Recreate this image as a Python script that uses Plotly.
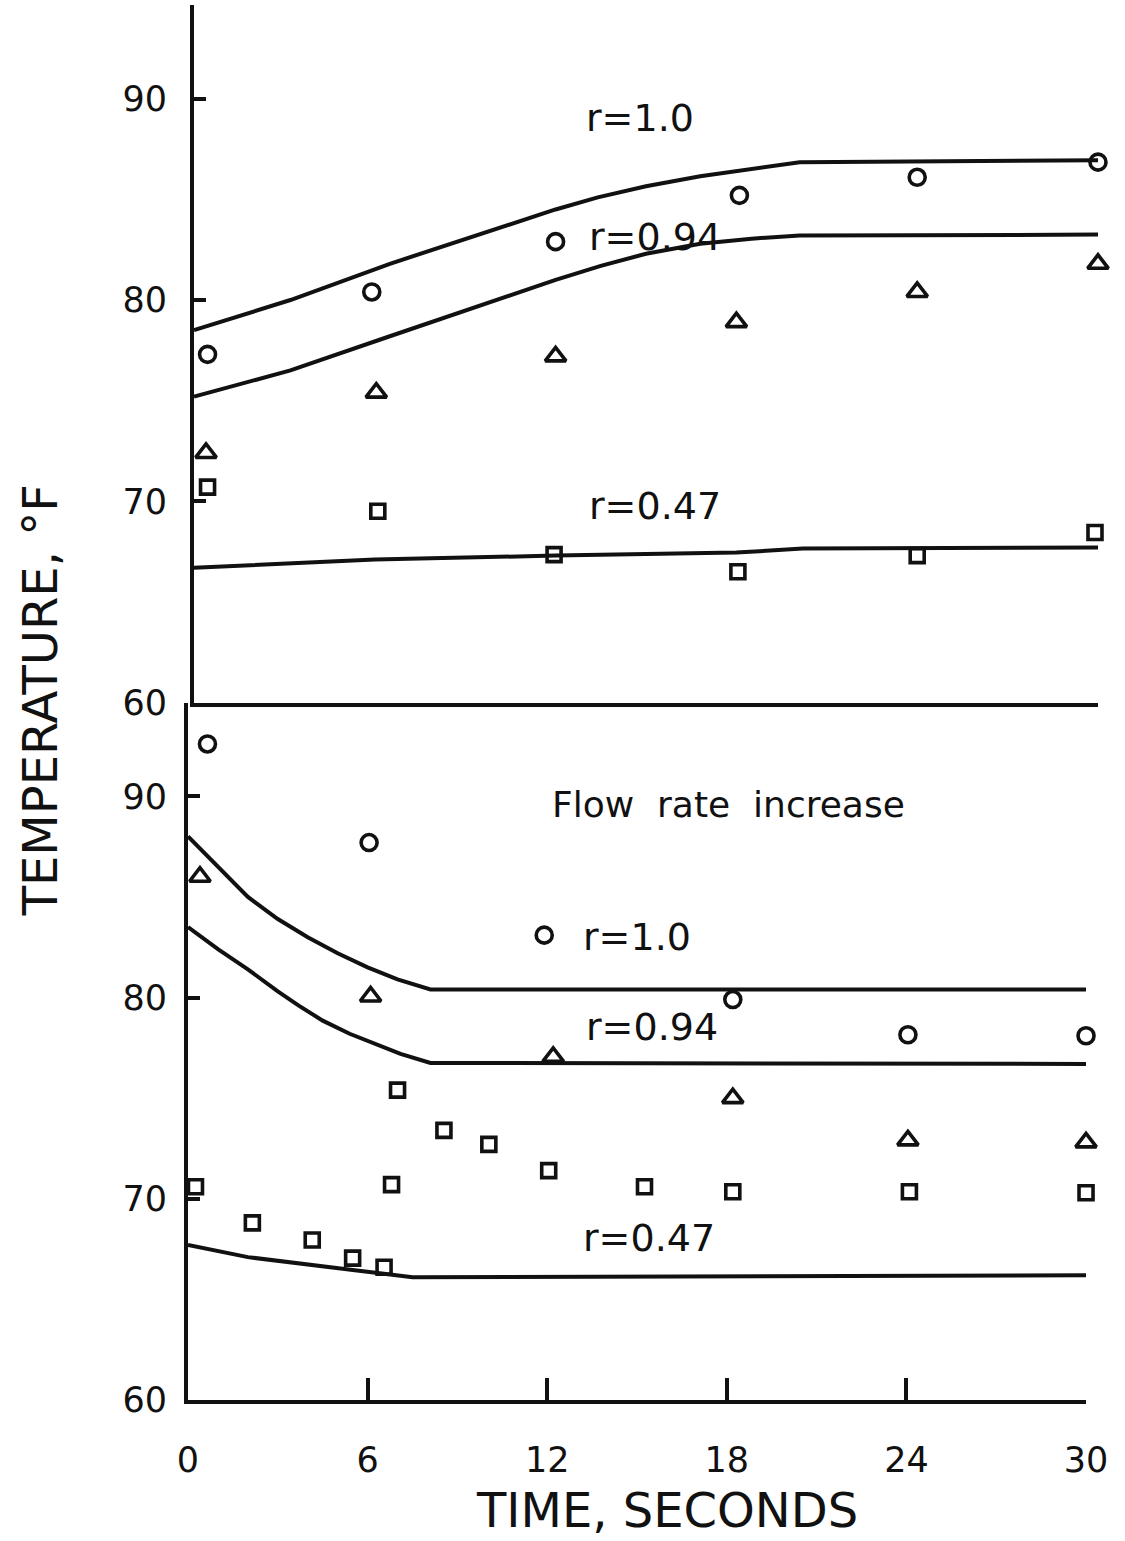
import plotly.graph_objects as go

# ---------------- data ----------------
# Upper panel (time, s / temperature, F)
top_r100_line_t = [0.0, 3.2, 6.5, 10.5, 12.0, 13.4, 15.0, 16.8, 18.5, 20.1, 30.0]
top_r100_line_T = [78.5, 80.0, 81.8, 83.75, 84.5, 85.1, 85.65, 86.15, 86.5, 86.85, 86.95]
top_r094_line_t = [0.0, 3.2, 6.5, 10.5, 12.0, 13.5, 15.0, 16.8, 18.5, 20.1, 30.0]
top_r094_line_T = [75.2, 76.5, 78.2, 80.25, 81.0, 81.7, 82.3, 82.8, 83.05, 83.2, 83.25]
top_r047_line_t = [0.0, 6.0, 12.0, 18.0, 20.2, 30.0]
top_r047_line_T = [66.7, 67.1, 67.3, 67.45, 67.65, 67.7]

top_circ_t = [0.45, 5.9, 12.0, 18.1, 24.0, 30.0]
top_circ_T = [77.3, 80.4, 82.9, 85.2, 86.1, 86.85]
top_tri_t = [0.4, 6.05, 12.0, 18.0, 24.0, 30.0]
top_tri_T = [72.4, 75.4, 77.2, 78.9, 80.4, 81.8]
top_sq_t = [0.45, 6.1, 11.95, 18.05, 24.0, 29.9]
top_sq_T = [70.7, 69.5, 67.35, 66.5, 67.3, 68.45]

# Lower panel (flow rate increase)
bot_r100_line_t = [0.0, 1.0, 2.0, 3.0, 4.0, 5.0, 6.0, 7.0, 8.1, 30.0]
bot_r100_line_T = [88.0, 86.5, 85.0, 83.9, 83.0, 82.2, 81.5, 80.9, 80.4, 80.4]
bot_r094_line_t = [0.0, 1.0, 2.0, 3.0, 3.7, 4.5, 5.4, 6.3, 7.1, 8.1, 30.0]
bot_r094_line_T = [83.5, 82.4, 81.4, 80.3, 79.6, 78.85, 78.2, 77.65, 77.2, 76.75, 76.7]
bot_r047_line_t = [0.0, 2.0, 5.3, 7.5, 30.0]
bot_r047_line_T = [67.7, 67.1, 66.5, 66.1, 66.2]

bot_circ_t = [0.65, 6.05, 11.9, 18.2, 24.05, 30.0]
bot_circ_T = [92.6, 87.7, 83.1, 79.9, 78.15, 78.1]
bot_tri_t = [0.4, 6.1, 12.2, 18.2, 24.05, 30.0]
bot_tri_T = [86.0, 80.05, 77.05, 75.0, 72.9, 72.8]
bot_sq_t = [0.25, 2.15, 4.15, 5.5, 6.55, 6.8, 7.0, 8.55, 10.05, 12.05, 15.25, 18.2, 24.1, 30.0]
bot_sq_T = [70.6, 68.8, 67.95, 67.05, 66.6, 70.7, 75.4, 73.4, 72.7, 71.4, 70.6, 70.35, 70.35, 70.3]

y_ticks = [60, 70, 80, 90]
x_ticks = [0, 6, 12, 18, 24, 30]
x_tick_labels = ["0", "6", "12", "18", "24", "30"]

# ---------------- figure ----------------
W, H = 1125, 1541
L, R, T_, B = 188, 25, 5, 141
PW, PH = W - L - R, H - T_ - B
INK = "#111111"
FONT = "DejaVu Sans"
YR = [60, 94.66]

fig = go.Figure()

def line(t, v, xa, ya):
    fig.add_trace(go.Scatter(x=t, y=v, mode="lines", xaxis=xa, yaxis=ya,
                             line=dict(color=INK, width=4), cliponaxis=False,
                             showlegend=False, hoverinfo="skip"))

def pts(t, v, sym, size, xa, ya):
    fig.add_trace(go.Scatter(x=t, y=v, mode="markers", xaxis=xa, yaxis=ya,
                             marker=dict(symbol=sym, size=size, color=INK,
                                         line=dict(color=INK, width=3.6)),
                             cliponaxis=False, showlegend=False))

# top panel -> x2 / y2
line(top_r100_line_t, top_r100_line_T, "x2", "y2")
line(top_r094_line_t, top_r094_line_T, "x2", "y2")
line(top_r047_line_t, top_r047_line_T, "x2", "y2")
pts(top_circ_t, top_circ_T, "circle-open", 16, "x2", "y2")
pts(top_tri_t, top_tri_T, "triangle-up-open", 18, "x2", "y2")
pts(top_sq_t, top_sq_T, "square-open", 14, "x2", "y2")

# bottom panel -> x / y
line(bot_r100_line_t, bot_r100_line_T, "x", "y")
line(bot_r094_line_t, bot_r094_line_T, "x", "y")
line(bot_r047_line_t, bot_r047_line_T, "x", "y")
pts(bot_circ_t, bot_circ_T, "circle-open", 16, "x", "y")
pts(bot_tri_t, bot_tri_T, "triangle-up-open", 18, "x", "y")
pts(bot_sq_t, bot_sq_T, "square-open", 14, "x", "y")

tickfont = dict(family=FONT, size=35, color=INK)

fig.update_layout(
    width=W, height=H,
    margin=dict(l=L, r=R, t=T_, b=B),
    paper_bgcolor="white", plot_bgcolor="white",
    showlegend=False,
    xaxis=dict(domain=[0, 900 / PW], range=[0, 30], anchor="y",
               tickvals=x_ticks, ticktext=x_tick_labels, ticks="inside",
               ticklen=22, tickwidth=3.5, tickcolor=INK,
               showline=True, linecolor=INK, linewidth=4,
               showgrid=False, zeroline=False, tickfont=tickfont,
               ticklabelstandoff=26),
    xaxis2=dict(domain=[6 / PW, 1], range=[0, 30], anchor="y2",
                showticklabels=False, ticks="",
                showline=True, linecolor=INK, linewidth=4,
                showgrid=False, zeroline=False),
    yaxis=dict(domain=[0, 0.5], range=YR, anchor="x",
               tickvals=y_ticks, ticks="inside", ticklen=12, tickwidth=3.5,
               tickcolor=INK, showline=True, linecolor=INK, linewidth=4,
               showgrid=False, zeroline=False, tickfont=tickfont,
               ticklabelstandoff=10),
    yaxis2=dict(domain=[0.5, 1], range=YR, anchor="x2",
                tickvals=[70, 80, 90, 60], ticks="inside", ticklen=12, tickwidth=3.5,
                tickcolor=INK, showline=True, linecolor=INK, linewidth=4,
                showgrid=False, zeroline=False, tickfont=tickfont,
                ticklabelstandoff=16),
)

ann = []
def lab(text, t, v, xa, ya, size=38):
    ann.append(dict(text=text, x=t, y=v, xref=xa, yref=ya, showarrow=False,
                    xanchor="center", yanchor="middle",
                    font=dict(family=FONT, size=size, color=INK)))

lab("r=1.0", 14.8, 89.06, "x2", "y2")
lab("r=0.94", 15.3, 83.15, "x2", "y2")
lab("r=0.47", 15.3, 69.74, "x2", "y2")
lab("Flow  rate  increase", 18.07, 89.6, "x", "y", 36)
lab("r=1.0", 15.0, 83.03, "x", "y")
lab("r=0.94", 15.5, 78.56, "x", "y")
lab("r=0.47", 15.4, 68.06, "x", "y")

def px(xp):
    return (xp - L) / PW
def py(yp):
    return (H - B - yp) / PH

ann.append(dict(text="TIME, SECONDS", x=px(668), y=py(1510), xref="paper", yref="paper",
                showarrow=False, xanchor="center", yanchor="middle",
                font=dict(family=FONT, size=48, color=INK)))
ann.append(dict(text="TEMPERATURE, °F", x=px(40), y=py(700), xref="paper", yref="paper",
                showarrow=False, xanchor="center", yanchor="middle", textangle=-90,
                font=dict(family=FONT, size=48, color=INK)))
fig.update_layout(annotations=ann)

fig.write_html("out.html")
